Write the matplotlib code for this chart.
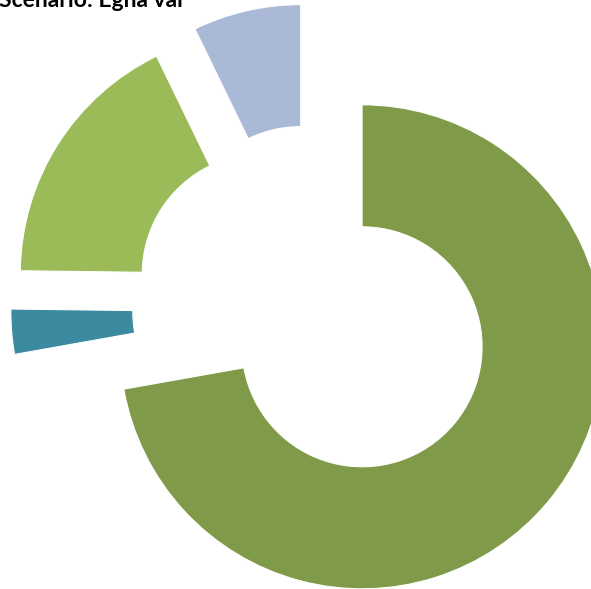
import matplotlib.pyplot as plt

# data
labels = ["A", "B", "C", "D"]
shares = [72.2, 3.0, 17.6, 7.2]  # procent
colors = ["#7F9A48", "#3B8AA0", "#9BBB59", "#AAB9D6"]

W, H = 591, 589
R = 242.0  # outer radius in px, used as unit

fig = plt.figure(figsize=(W / 100, H / 100), dpi=100, facecolor="white")
ax = fig.add_axes([0, 0, 1, 1])

# donut, all slices pulled out the same amount
cx, cy = 314.6 / R, (H - 307) / R
ax.pie(shares, colors=colors, startangle=90, counterclock=False,
       radius=1.0, center=(cx, cy), explode=[0.256] * len(shares),
       wedgeprops=dict(width=122 / R, edgecolor="white", linewidth=0.8))

ax.set_xlim(0, W / R)
ax.set_ylim(0, H / R)
ax.set_aspect("equal")
ax.axis("off")

# title is cut at the top edge in the original
ax.text(-1 / R, (H - 7.3) / R, "Scenario: Egna val", fontsize=16.5,
        fontweight="bold", family=["Lato", "DejaVu Sans"],
        ha="left", va="baseline", color="black")

plt.savefig("out.png", dpi=100)
